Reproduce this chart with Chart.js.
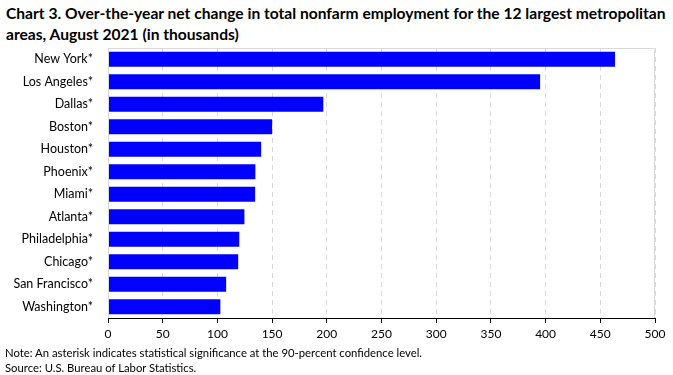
<!DOCTYPE html>
<html>
<head>
<meta charset="utf-8">
<script src="https://cdn.jsdelivr.net/npm/chart.js@4/dist/chart.umd.min.js"></script>
<style>
  html, body { margin: 0; padding: 0; background: #fff; }
  body { width: 673px; height: 375px; position: relative; overflow: hidden; font-family: Lato, "Open Sans", sans-serif; color: #000; }
  #title { position: absolute; left: 6px; top: 3px; font-size: 15.6px; font-weight: bold; line-height: 21px; letter-spacing: 0; white-space: nowrap; }
  #wrap { position: absolute; left: 0; top: 0; width: 673px; height: 375px; }
  .note { position: absolute; left: 5px; font-size: 11.3px; line-height: 13px; letter-spacing: 0; white-space: nowrap; }
</style>
</head>
<body>
<div id="title">Chart 3. Over-the-year net change in total nonfarm employment for the 12 largest metropolitan<br>areas, August 2021 (in thousands)</div>
<div id="wrap"><canvas id="chart" width="673" height="375"></canvas></div>
<div class="note" style="top:346px">Note: An asterisk indicates statistical significance at the 90-percent confidence level.</div>
<div class="note" style="top:361px">Source: U.S. Bureau of Labor Statistics.</div>
<script>
// categories and values (thousands)
const areas = ["New York*", "Los Angeles*", "Dallas*", "Boston*", "Houston*", "Phoenix*",
               "Miami*", "Atlanta*", "Philadelphia*", "Chicago*", "San Francisco*", "Washington*"];
const netChange = [463.5, 395, 196.8, 150, 140, 134.7, 134.5, 124.7, 120, 119, 108, 102.7];
const xTicks = [0, 50, 100, 150, 200, 250, 300, 350, 400, 450, 500];

// light grey frame round the plot area
const frame = {
  id: "frame",
  afterDatasetsDraw(chart) {
    const a = chart.chartArea, ctx = chart.ctx;
    ctx.save();
    ctx.strokeStyle = "#d9d9d9";
    ctx.lineWidth = 1;
    ctx.beginPath();
    ctx.moveTo(a.left + 0.5, a.bottom);
    ctx.lineTo(a.left + 0.5, a.top + 0.5);
    ctx.lineTo(a.right - 0.5, a.top + 0.5);
    ctx.lineTo(a.right - 0.5, a.bottom);
    ctx.stroke();
    // bottom axis line on top
    ctx.strokeStyle = "#000";
    ctx.beginPath();
    ctx.moveTo(a.left, a.bottom + 0.5);
    ctx.lineTo(a.right, a.bottom + 0.5);
    ctx.stroke();
    ctx.restore();
  }
};

new Chart(document.getElementById("chart"), {
  type: "bar",
  data: {
    labels: areas,
    datasets: [{
      data: netChange,
      backgroundColor: "#0000ff",
      borderWidth: 0,
      barPercentage: 0.67,
      categoryPercentage: 1
    }]
  },
  options: {
    indexAxis: "y",
    responsive: false,
    animation: false,
    layout: { padding: { top: 48, right: 18, bottom: 27, left: 0 } },
    plugins: { legend: { display: false }, tooltip: { enabled: false } },
    scales: {
      x: {
        min: 0, max: 500,
        afterBuildTicks: s => { s.ticks = xTicks.map(v => ({ value: v })); },
        afterFit: s => { s.height = 30; },
        grid: { color: "#d9d9d9", lineWidth: 1, drawTicks: true, tickLength: 5, tickColor: "#000" },
        border: { display: false, dash: [5, 4] },
        ticks: { color: "#000", font: { family: "Lato", size: 12 }, padding: 4, maxRotation: 0 }
      },
      y: {
        afterFit: s => { s.width = 108; },
        grid: { display: false },
        border: { display: false },
        ticks: { color: "#000", font: { family: "Lato", size: 12.5 }, padding: 7, autoSkip: false }
      }
    }
  },
  plugins: [frame]
});
</script>
</body>
</html>
